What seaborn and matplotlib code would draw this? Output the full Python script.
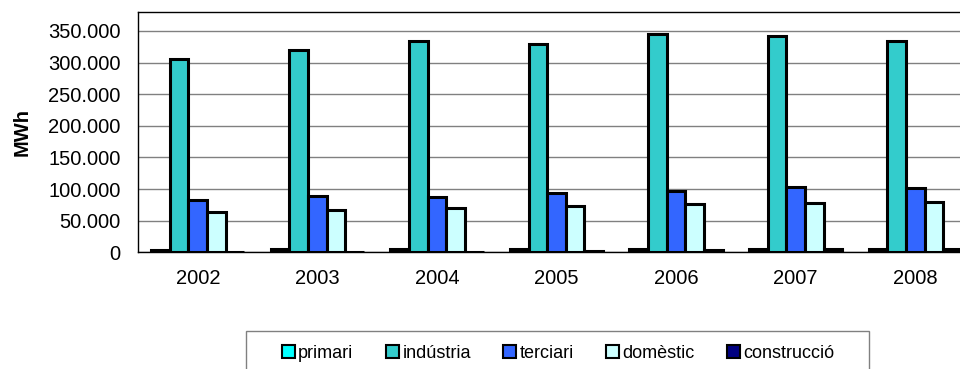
import pandas as pd
import matplotlib
matplotlib.use("Agg")
import matplotlib.pyplot as plt
import seaborn as sns
from matplotlib.ticker import FuncFormatter, MultipleLocator, FixedLocator
from matplotlib.patches import Rectangle, Patch

# ---- Données (MWh) ----
anys = ["2002", "2003", "2004", "2005", "2006", "2007", "2008"]
sectors = ["primari", "indústria", "terciari", "domèstic", "construcció"]

primari = [4000, 5500, 5500, 5000, 5500, 5500, 5500]
industria = [306000, 320000, 334000, 329500, 345800, 342000, 333800]
terciari = [82700, 89000, 88000, 93300, 97400, 103700, 101700]
domestic = [63700, 66900, 69600, 73200, 76400, 77500, 79000]
construccio = [1000, 1000, 1000, 1500, 3000, 5000, 4500]

colors = ["#00FFFF", "#33CCCC", "#3366FF", "#CCFFFF", "#000080"]

df = pd.DataFrame({
    "any": anys * 5,
    "sector": [s for s in sectors for _ in anys],
    "MWh": primari + industria + terciari + domestic + construccio,
})

sns.set_style("white")
plt.rcParams["font.family"] = ["Liberation Sans", "DejaVu Sans"]
plt.rcParams["text.color"] = "black"
plt.rcParams["axes.labelcolor"] = "black"
plt.rcParams["xtick.color"] = "black"
plt.rcParams["ytick.color"] = "black"

fig = plt.figure(figsize=(9.6, 3.69), dpi=100)
ax = fig.add_axes([0.14375, 0.3163, 0.8719, 0.6512])

sns.barplot(data=df, x="any", y="MWh", hue="sector", hue_order=sectors,
            palette=dict(zip(sectors, colors)), saturation=1, width=0.78,
            edgecolor="black", linewidth=2.2, ax=ax, legend=False, zorder=3)

ax.set_xlim(-0.5, 6.5)
ax.set_ylim(0, 380000)
ax.yaxis.set_major_locator(MultipleLocator(50000))
ax.yaxis.set_major_formatter(FuncFormatter(lambda v, p: f"{int(v):,}".replace(",", ".")))
ax.grid(axis="y", color="#808080", linewidth=1, zorder=0)
ax.set_axisbelow(True)

ax.xaxis.set_minor_locator(FixedLocator([i - 0.5 for i in range(8)]))
ax.tick_params(axis="x", which="major", length=0, labelsize=14.5, pad=12)
ax.tick_params(axis="x", which="minor", length=3.6, width=1, color="#808080", direction="out")
ax.tick_params(axis="y", length=3.6, width=1, color="#808080", direction="out", labelsize=14.5, pad=9)

for side in ["left", "bottom", "top", "right"]:
    ax.spines[side].set_color("black")
    ax.spines[side].set_linewidth(1)

ax.set_xlabel("")
ax.set_ylabel("MWh", fontsize=14.5, fontweight="bold", labelpad=12)

# Légende dans un cadre
fig.patches.append(Rectangle((246 / 960, -0.05), (869 - 246) / 960, (369 - 331) / 369 + 0.05,
                             transform=fig.transFigure, facecolor="white",
                             edgecolor="#808080", linewidth=1, zorder=1))
handles = [Patch(facecolor=c, edgecolor="black", linewidth=1.5) for c in colors]
fig.legend(handles, sectors, loc="center left", bbox_to_anchor=(282 / 960, (369 - 353) / 369),
           ncol=5, frameon=False, fontsize=13, handlelength=0.7, handleheight=0.7,
           handletextpad=0.2, columnspacing=1.8, borderpad=0, borderaxespad=0)

plt.savefig("out.png", dpi=100)
plt.close()
